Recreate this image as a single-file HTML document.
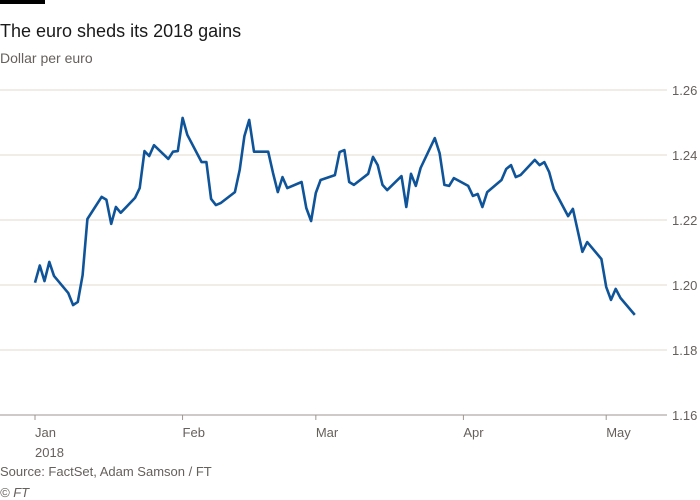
<!DOCTYPE html>
<html><head><meta charset="utf-8"><style>
body{margin:0;background:#fff;}
svg{display:block;font-family:"Liberation Sans",sans-serif;}
</style></head><body>
<svg id="chart" width="700" height="500">
<rect x="0" y="0" width="45" height="4" fill="#000"/>
<text x="0" y="37" font-size="18" fill="#1a1a1a">The euro sheds its 2018 gains</text>
<text x="0" y="63" font-size="14" fill="#66605c">Dollar per euro</text>
<g id="grid"></g>
<g id="xaxis"></g>
<path id="line" fill="none" stroke="#0f5499" stroke-width="2.6" stroke-linejoin="round"/>
<text x="0" y="476" font-size="13" fill="#66605c">Source: FactSet, Adam Samson / FT</text>
<text x="0" y="497" font-size="13" font-style="italic" fill="#66605c">© FT</text>
</svg>
<script>
const days=[0,1,2,3,4,7,8,9,10,11,14,15,16,17,18,21,22,23,24,25,28,29,30,31,32,35,36,37,38,39,42,43,44,45,46,49,50,51,52,53,56,57,58,59,60,63,64,65,66,67,70,71,72,73,74,77,78,79,80,81,84,85,86,87,88,91,92,93,94,95,98,99,100,101,102,105,106,107,108,109,112,113,115,116,119,120,121,122,123,126];
const values=[1.2007,1.206,1.2012,1.2071,1.2028,1.1975,1.1938,1.1948,1.203,1.2203,1.2271,1.2262,1.2188,1.224,1.2222,1.2268,1.2298,1.2412,1.2397,1.243,1.2388,1.241,1.2412,1.2514,1.2462,1.2378,1.2378,1.2265,1.2246,1.2252,1.2286,1.2354,1.2458,1.2508,1.241,1.241,1.2345,1.2286,1.2332,1.2298,1.2317,1.2237,1.2197,1.2283,1.2323,1.2338,1.2409,1.2415,1.2317,1.2308,1.2342,1.2394,1.2369,1.2308,1.2292,1.2335,1.224,1.2342,1.2305,1.236,1.2452,1.2406,1.2308,1.2305,1.2329,1.2305,1.2274,1.228,1.224,1.2286,1.2323,1.2357,1.2369,1.2332,1.2338,1.2385,1.2369,1.2378,1.2348,1.2295,1.2212,1.2234,1.2102,1.2132,1.208,1.1994,1.1954,1.1988,1.196,1.1908];
const yTicks=[1.16,1.18,1.20,1.22,1.24,1.26];
const monthLabels=["Jan","Feb","Mar","Apr","May"];
const monthDays=[0,31,59,90,120];
const NS="http://www.w3.org/2000/svg";
function xs(d){return 35+d*4.76;}
function ys(v){return 415-(v-1.16)*3250;}
const grid=document.getElementById('grid'),xa=document.getElementById('xaxis');
yTicks.forEach((t,i)=>{
 const l=document.createElementNS(NS,'line');
 
 
 l.setAttribute('x1',0);l.setAttribute('x2',667);l.setAttribute('y1',ys(t));l.setAttribute('y2',ys(t));
 l.setAttribute('stroke',i===0?'#9e9690':'#e3d8cd');l.setAttribute('stroke-width',1);
 grid.appendChild(l);
 const tx=document.createElementNS(NS,'text');
 
 
 tx.setAttribute('x',672);tx.setAttribute('y',ys(t)+5);tx.setAttribute('font-size',13);tx.setAttribute('fill','#66605c');
 tx.textContent=t.toFixed(2);grid.appendChild(tx);
});
monthLabels.forEach((m,i)=>{
 const x=xs(monthDays[i]);
 const tk=document.createElementNS(NS,'line');
 
 
 tk.setAttribute('x1',x);tk.setAttribute('x2',x);tk.setAttribute('y1',415);tk.setAttribute('y2',420);tk.setAttribute('stroke','#9e9690');
 xa.appendChild(tk);
 const tx=document.createElementNS(NS,'text');
 
 
 tx.setAttribute('x',x);tx.setAttribute('y',437);tx.setAttribute('font-size',13);tx.setAttribute('fill','#66605c');
 tx.textContent=m;xa.appendChild(tx);
});
const yr=document.createElementNS(NS,'text');


yr.setAttribute('x',xs(0));yr.setAttribute('y',457);yr.setAttribute('font-size',13);yr.setAttribute('fill','#66605c');
yr.textContent='2018';xa.appendChild(yr);
document.getElementById('line').setAttribute('d',days.map((d,i)=>(i?'L':'M')+xs(d).toFixed(1)+','+ys(values[i]).toFixed(1)).join(''));
</script>
</body></html>
